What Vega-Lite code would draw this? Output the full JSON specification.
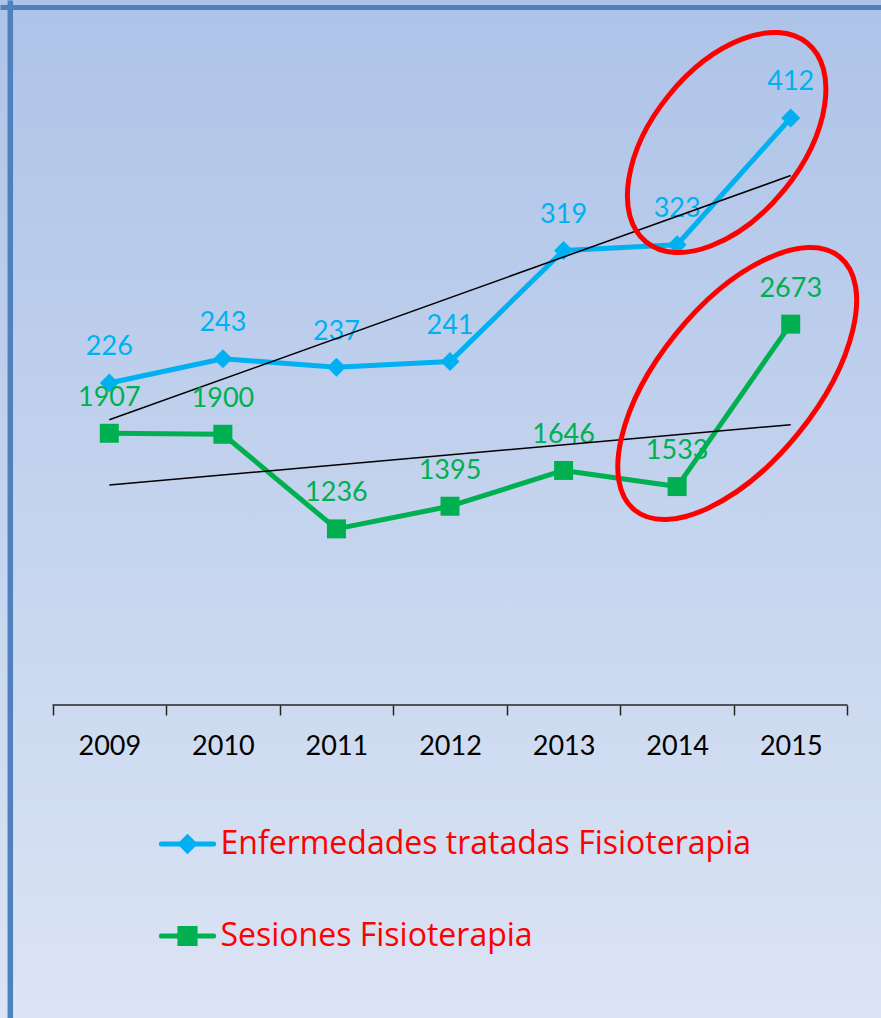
{
  "$schema": "https://vega.github.io/schema/vega-lite/v6.json",
  "width": 881,
  "height": 1018,
  "autosize": "none",
  "padding": 0,
  "background": "#c4d3ee",
  "config": {
    "view": {"stroke": null, "fill": {"gradient": "linear", "x1": 0, "y1": 0, "x2": 0, "y2": 1, "stops": [{"offset": 0, "color": "#adc3e8"}, {"offset": 1, "color": "#dbe4f4"}]}},
    "font": "Lato"
  },
  "datasets": {
    "series": [
      {"year": 2009, "series": "Enfermedades tratadas Fisioterapia", "value": 226},
      {"year": 2010, "series": "Enfermedades tratadas Fisioterapia", "value": 243},
      {"year": 2011, "series": "Enfermedades tratadas Fisioterapia", "value": 237},
      {"year": 2012, "series": "Enfermedades tratadas Fisioterapia", "value": 241},
      {"year": 2013, "series": "Enfermedades tratadas Fisioterapia", "value": 319},
      {"year": 2014, "series": "Enfermedades tratadas Fisioterapia", "value": 323},
      {"year": 2015, "series": "Enfermedades tratadas Fisioterapia", "value": 412},
      {"year": 2009, "series": "Sesiones Fisioterapia", "value": 1907},
      {"year": 2010, "series": "Sesiones Fisioterapia", "value": 1900},
      {"year": 2011, "series": "Sesiones Fisioterapia", "value": 1236},
      {"year": 2012, "series": "Sesiones Fisioterapia", "value": 1395},
      {"year": 2013, "series": "Sesiones Fisioterapia", "value": 1646},
      {"year": 2014, "series": "Sesiones Fisioterapia", "value": 1533},
      {"year": 2015, "series": "Sesiones Fisioterapia", "value": 2673}
    ],
    "highlights": [
      {"year": 2014.436, "series": "Enfermedades tratadas Fisioterapia", "value": 394.8},
      {"year": 2014.529, "series": "Sesiones Fisioterapia", "value": 2256}
    ],
    "baseline": [
      {"year": 2008.5, "year_end": 2015.5, "value": 0}
    ]
  },
  "layer": [
    {
      "encoding": {
        "x": {"field": "year", "type": "quantitative", "scale": {"domain": [2008.0376, 2015.795], "nice": false, "zero": false},
          "axis": {"orient": "bottom", "offset": -313, "domain": false, "grid": false, "title": null,
            "values": [2008.5, 2009, 2009.5, 2010, 2010.5, 2011, 2011.5, 2012, 2012.5, 2013, 2013.5, 2014, 2014.5, 2015, 2015.5],
            "tickSize": 10, "tickWidth": 1.5, "tickColor": "#262626",
            "tickOpacity": {"condition": {"test": "datum.value % 1 !== 0", "value": 1}, "value": 0},
            "labelExpr": "datum.value % 1 === 0 ? format(datum.value, 'd') : ''",
            "labelFont": "Lato", "labelFontSize": 27, "labelColor": "#000000", "labelPadding": 18,
            "labelOverlap": false, "labelFlush": false, "labelBound": false}},
        "y": {"field": "value", "type": "quantitative", "scale": {"domain": [-219.7, 494.8], "nice": false, "zero": false},
          "axis": {"orient": "left", "offset": -9.8, "domain": true, "domainColor": "#4f81bd", "domainWidth": 5.5,
            "ticks": false, "labels": false, "title": null, "grid": true, "gridColor": "#4f81bd", "gridWidth": 5, "gridOpacity": 1,
            "values": [489.6]}}
      },
      "layer": [
        {
          "data": {"name": "baseline"},
          "mark": {"type": "rule", "color": "#262626", "strokeWidth": 1.5},
          "encoding": {"x2": {"field": "year_end"}}
        },
        {
          "data": {"name": "series"},
          "transform": [{"filter": "datum.series === 'Enfermedades tratadas Fisioterapia'"}],
          "mark": {"type": "text", "dy": -27.5, "fontSize": 27, "font": "Lato", "color": "#00b0f0", "baseline": "alphabetic", "align": "center"},
          "encoding": {"text": {"field": "value", "format": "d"}}
        },
        {
          "data": {"name": "series"},
          "transform": [{"filter": "datum.series === 'Enfermedades tratadas Fisioterapia'"}],
          "mark": {"type": "line", "strokeWidth": 5, "strokeJoin": "round"},
          "encoding": {"color": {"field": "series", "type": "nominal",
            "scale": {"domain": ["Enfermedades tratadas Fisioterapia", "Sesiones Fisioterapia"], "range": ["#00b0f0", "#00b050"]},
            "legend": {"title": null, "orient": "none", "legendX": 158.5, "legendY": 815, "padding": 0,
              "labelFont": "Open Sans", "labelFontSize": 32, "labelColor": "#ff0000", "labelLimit": 0, "labelOffset": 4,
              "symbolSize": 2735, "symbolStrokeWidth": 5, "rowPadding": 46,
              "encode": {"symbols": {"update": {
                "shape": {"signal": "datum.value === 'Sesiones Fisioterapia' ? 'M-1,0H1M-0.29,-0.29H0.29V0.29H-0.29Z' : 'M-1,0H1M-0.26,0L0,-0.26L0.26,0L0,0.26Z'"},
                "fill": {"scale": "color", "field": "value"},
                "stroke": {"scale": "color", "field": "value"},
                "strokeCap": {"value": "round"},
                "fillOpacity": {"value": 1}, "strokeOpacity": {"value": 1}, "opacity": {"value": 1}}}}}}}
        },
        {
          "data": {"name": "series"},
          "transform": [{"filter": "datum.series === 'Enfermedades tratadas Fisioterapia'"}],
          "mark": {"type": "point", "shape": "diamond", "size": 361, "filled": true, "opacity": 1, "color": "#00b0f0"}
        },
        {
          "data": {"name": "series"},
          "transform": [{"filter": "datum.series === 'Enfermedades tratadas Fisioterapia'"}, {"regression": "value", "on": "year"}],
          "mark": {"type": "line", "color": "#000000", "strokeWidth": 1.5}
        },
        {
          "data": {"name": "highlights"},
          "transform": [{"filter": "datum.series === 'Enfermedades tratadas Fisioterapia'"}],
          "mark": {"type": "point", "shape": "M-1,0A1,0.583,0,1,1,1,0A1,0.583,0,1,1,-1,0Z", "size": 65536, "angle": 309, "filled": false, "stroke": "#ff0000", "strokeWidth": 5, "opacity": 1}
        }
      ]
    },
    {
      "encoding": {
        "x": {"field": "year", "type": "quantitative", "scale": {"domain": [2008.0376, 2015.795], "nice": false, "zero": false},
          "axis": {"orient": "bottom", "offset": -313, "domain": false, "grid": false, "title": null,
            "values": [2008.5, 2009, 2009.5, 2010, 2010.5, 2011, 2011.5, 2012, 2012.5, 2013, 2013.5, 2014, 2014.5, 2015, 2015.5],
            "tickSize": 10, "tickWidth": 1.5, "tickColor": "#262626",
            "tickOpacity": {"condition": {"test": "datum.value % 1 !== 0", "value": 1}, "value": 0},
            "labelExpr": "datum.value % 1 === 0 ? format(datum.value, 'd') : ''",
            "labelFont": "Lato", "labelFontSize": 27, "labelColor": "#000000", "labelPadding": 18,
            "labelOverlap": false, "labelFlush": false, "labelBound": false}},
        "y": {"field": "value", "type": "quantitative", "scale": {"domain": [-2197, 4948], "nice": false, "zero": false}, "axis": null}
      },
      "layer": [
        {
          "data": {"name": "series"},
          "transform": [{"filter": "datum.series === 'Sesiones Fisioterapia'"}],
          "mark": {"type": "text", "dy": -27.5, "fontSize": 27, "font": "Lato", "color": "#00b050", "baseline": "alphabetic", "align": "center"},
          "encoding": {"text": {"field": "value", "format": "d"}}
        },
        {
          "data": {"name": "series"},
          "transform": [{"filter": "datum.series === 'Sesiones Fisioterapia'"}],
          "mark": {"type": "line", "strokeWidth": 5, "strokeJoin": "round"},
          "encoding": {"color": {"field": "series", "type": "nominal",
            "scale": {"domain": ["Enfermedades tratadas Fisioterapia", "Sesiones Fisioterapia"], "range": ["#00b0f0", "#00b050"]},
            "legend": {"title": null, "orient": "none", "legendX": 158.5, "legendY": 815, "padding": 0,
              "labelFont": "Open Sans", "labelFontSize": 32, "labelColor": "#ff0000", "labelLimit": 0, "labelOffset": 4,
              "symbolSize": 2735, "symbolStrokeWidth": 5, "rowPadding": 46,
              "encode": {"symbols": {"update": {
                "shape": {"signal": "datum.value === 'Sesiones Fisioterapia' ? 'M-1,0H1M-0.29,-0.29H0.29V0.29H-0.29Z' : 'M-1,0H1M-0.26,0L0,-0.26L0.26,0L0,0.26Z'"},
                "fill": {"scale": "color", "field": "value"},
                "stroke": {"scale": "color", "field": "value"},
                "strokeCap": {"value": "round"},
                "fillOpacity": {"value": 1}, "strokeOpacity": {"value": 1}, "opacity": {"value": 1}}}}}}}
        },
        {
          "data": {"name": "series"},
          "transform": [{"filter": "datum.series === 'Sesiones Fisioterapia'"}],
          "mark": {"type": "point", "shape": "square", "size": 361, "filled": true, "opacity": 1, "color": "#00b050"}
        },
        {
          "data": {"name": "series"},
          "transform": [{"filter": "datum.series === 'Sesiones Fisioterapia'"}, {"regression": "value", "on": "year"}],
          "mark": {"type": "line", "color": "#000000", "strokeWidth": 1.5}
        },
        {
          "data": {"name": "highlights"},
          "transform": [{"filter": "datum.series === 'Sesiones Fisioterapia'"}],
          "mark": {"type": "point", "shape": "M-1,0A1,0.484,0,1,1,1,0A1,0.484,0,1,1,-1,0Z", "size": 106146, "angle": 309, "filled": false, "stroke": "#ff0000", "strokeWidth": 5, "opacity": 1}
        }
      ]
    }
  ],
  "resolve": {"scale": {"y": "independent"}, "axis": {"y": "independent"}}
}
